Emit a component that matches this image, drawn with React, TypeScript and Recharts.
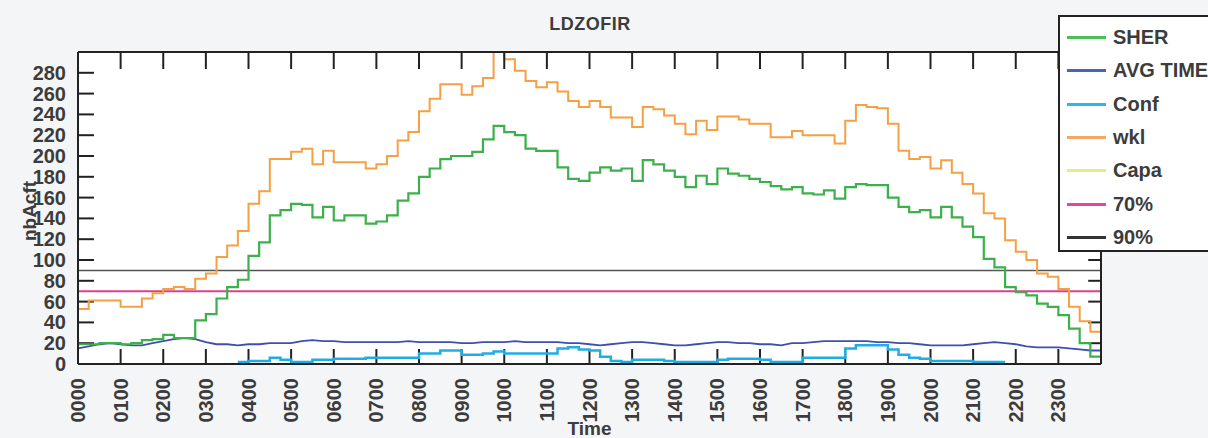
import { ComposedChart, Line, XAxis, YAxis, ReferenceLine, Legend, Label } from "recharts";

const FONT = "'Liberation Sans', Arial, sans-serif";
const INK = "#3c3c3c";
const FRAME = "#222222";

// hour labels on the time axis
const hourLabels = [
  "0000", "0100", "0200", "0300", "0400", "0500", "0600", "0700", "0800", "0900", "1000", "1100",
  "1200", "1300", "1400", "1500", "1600", "1700", "1800", "1900", "2000", "2100", "2200", "2300",
];
const hourTicks = hourLabels.map((_, i) => i);
const yTicks = [0, 20, 40, 60, 80, 100, 120, 140, 160, 180, 200, 220, 240, 260, 280];

// quarter-hour values, 96 per series
const sherValues = [
  19, 19, 20, 20, 19, 20, 23, 24, 28, 25, 25, 42,
  48, 63, 74, 81, 104, 117, 143, 148, 154, 153, 141, 151,
  138, 143, 143, 135, 137, 143, 157, 164, 180, 188, 197, 200,
  200, 204, 216, 229, 223, 220, 207, 205, 205, 189, 178, 176,
  184, 189, 186, 188, 176, 196, 192, 186, 180, 170, 181, 173,
  188, 183, 181, 178, 175, 171, 168, 170, 164, 163, 167, 159,
  170, 173, 172, 172, 160, 151, 146, 148, 141, 151, 141, 132,
  122, 101, 93, 74, 69, 66, 58, 55, 47, 34, 20, 7,
];

const avgTimeValues = [
  15, 17, 19, 20, 19, 18, 18, 20, 22, 24, 25, 24,
  21, 19, 19, 18, 19, 19, 20, 20, 20, 22, 23, 22,
  22, 21, 21, 21, 21, 21, 21, 22, 21, 21, 21, 21,
  20, 20, 21, 21, 21, 22, 21, 21, 21, 21, 20, 20,
  19, 18, 19, 20, 21, 21, 20, 19, 18, 18, 19, 20,
  21, 21, 20, 20, 19, 19, 18, 20, 20, 21, 22, 22,
  22, 22, 22, 21, 21, 20, 20, 19, 18, 18, 18, 18,
  19, 20, 21, 20, 19, 17, 16, 16, 16, 15, 14, 13,
];

const confValues: (number | null)[] = [
  null, null, null, null, null, null, null, null, null, null, null, null,
  null, null, null, 2, 3, 3, 6, 4, 2, 2, 4, 4,
  5, 5, 5, 6, 6, 6, 6, 6, 10, 10, 13, 13,
  9, 9, 10, 12, 10, 10, 10, 10, 10, 15, 16, 14,
  13, 7, 3, 2, 4, 4, 4, 3, 2, 2, 2, 2,
  4, 5, 5, 5, 4, 2, 2, 2, 6, 6, 6, 6,
  15, 18, 18, 18, 14, 9, 6, 5, 3, 3, 3, 3,
  2, 2, 2, 2, null, null, null, null, null, null, null, null,
];

const wklValues = [
  53, 61, 61, 61, 55, 55, 63, 68, 72, 74, 72, 82,
  87, 103, 114, 128, 154, 166, 197, 197, 204, 207, 192, 205,
  194, 194, 194, 188, 192, 200, 215, 223, 243, 255, 269, 269,
  259, 267, 275, 300, 293, 282, 272, 266, 271, 262, 253, 247,
  253, 247, 237, 237, 228, 247, 245, 239, 231, 221, 234, 225,
  238, 238, 235, 231, 231, 218, 218, 224, 220, 220, 220, 212,
  234, 249, 247, 246, 231, 205, 197, 199, 188, 196, 184, 173,
  164, 145, 140, 119, 108, 100, 87, 84, 72, 55, 41, 31,
];

// no capacity values are drawn in the picture
const capaValues: (number | null)[] = wklValues.map(() => null);

const level70 = 70;
const level90 = 90;

const legendItems = [
  { name: "SHER", color: "#4cbf58" },
  { name: "AVG TIME", color: "#4b62bb" },
  { name: "Conf", color: "#2bb8ea" },
  { name: "wkl", color: "#f7a860" },
  { name: "Capa", color: "#e4f07c" },
  { name: "70%", color: "#e4479c" },
  { name: "90%", color: "#333333" },
];

const rows = wklValues.map((_, i) => ({
  t: i / 4,
  sher: sherValues[i],
  avg: avgTimeValues[i],
  conf: confValues[i],
  wkl: wklValues[i],
  capa: capaValues[i],
}));
// close the last step at 24:00
rows.push({ ...rows[rows.length - 1], t: 24 });

// inner tick marks, lengths in axis units
const X_TICK_LEN = 14.4;
const Y_TICK_LEN_L = 0.375;
const Y_TICK_LEN_R = 0.3;

function BottomTick(props: any) {
  const { x, y, payload } = props;
  const ly = y + 14;
  return (
    <text
      x={x}
      y={ly}
      transform={`rotate(-90 ${x} ${ly})`}
      textAnchor="end"
      dominantBaseline="central"
      fontFamily={FONT}
      fontWeight="bold"
      fontSize={20}
      fill={INK}
    >
      {hourLabels[payload.value]}
    </text>
  );
}

function TopTick(props: any) {
  const { x, y } = props;
  return <line x1={x} x2={x} y1={y} y2={y + 17} stroke={FRAME} strokeWidth={2} />;
}

function LeftTick(props: any) {
  const { x, y, payload } = props;
  return (
    <text x={x - 12} y={y} textAnchor="end" dominantBaseline="central" fontFamily={FONT} fontWeight="bold" fontSize={20} fill={INK}>
      {payload.value}
    </text>
  );
}

function YTitle(props: any) {
  const vb = props.viewBox || {};
  const cx = (vb.x || 0) + 29;
  const cy = (vb.y || 0) + (vb.height || 0) / 2 + 3;
  return (
    <text
      x={cx}
      y={cy}
      transform={`rotate(-90 ${cx} ${cy})`}
      textAnchor="middle"
      dominantBaseline="central"
      fontFamily={FONT}
      fontWeight="bold"
      fontSize={19}
      fill={INK}
    >
      nbAcft
    </text>
  );
}

function LegendBox() {
  return (
    <div
      style={{
        position: "relative",
        width: 170,
        height: 237,
        boxSizing: "border-box",
        border: `2px solid ${FRAME}`,
        background: "#fff",
      }}
    >
      {legendItems.map((item, i) => (
        <div
          key={item.name}
          style={{
            position: "absolute",
            left: 7,
            top: 4 + i * 33.3,
            height: 33,
            display: "flex",
            alignItems: "center",
            whiteSpace: "nowrap",
          }}
        >
          <span style={{ display: "inline-block", width: 39, height: 3, background: item.color, marginRight: 7 }} />
          <span style={{ fontFamily: FONT, fontWeight: "bold", fontSize: 20, color: INK }}>{item.name}</span>
        </div>
      ))}
    </div>
  );
}

export default function App() {
  return (
    <div style={{ position: "absolute", left: 0, top: 0, width: 1208, height: 438, background: "#f4f5f6", overflow: "hidden" }}>
      {/* white plot panel behind the chart svg */}
      <div style={{ position: "absolute", left: 78, top: 52, width: 1023, height: 312, background: "#ffffff" }} />
      <div
        style={{
          position: "absolute",
          left: 0,
          width: 1180,
          top: 14,
          textAlign: "center",
          fontFamily: FONT,
          fontWeight: "bold",
          fontSize: 18,
          lineHeight: "20px",
          letterSpacing: 0.5,
          color: INK,
        }}
      >
        LDZOFIR
      </div>
      <div style={{ position: "absolute", left: 0, top: 0 }}>
        <ComposedChart width={1208} height={438} data={rows} margin={{ top: 51, right: 106, bottom: 0, left: 0 }}>
          <XAxis
            dataKey="t"
            type="number"
            domain={[0, 24]}
            ticks={hourTicks}
            interval={0}
            height={74}
            tickSize={0}
            tickMargin={0}
            tickLine={false}
            tick={<BottomTick />}
            axisLine={{ stroke: FRAME, strokeWidth: 2 }}
          >
            <Label value="Time" position="insideBottom" offset={3} style={{ fontFamily: FONT, fontWeight: "bold", fontSize: 19, fill: INK }} />
          </XAxis>
          <XAxis
            xAxisId="top"
            orientation="top"
            dataKey="t"
            type="number"
            domain={[0, 24]}
            ticks={hourTicks.slice(1)}
            interval={0}
            height={1}
            tickSize={0}
            tickMargin={0}
            tickLine={false}
            tick={<TopTick />}
            axisLine={{ stroke: FRAME, strokeWidth: 2 }}
          />
          <YAxis
            type="number"
            domain={[0, 300]}
            ticks={yTicks}
            interval={0}
            width={78}
            tickSize={0}
            tickMargin={0}
            tickLine={false}
            tick={<LeftTick />}
            axisLine={{ stroke: FRAME, strokeWidth: 2 }}
          >
            <Label content={<YTitle />} />
          </YAxis>
          <YAxis
            yAxisId="right"
            orientation="right"
            type="number"
            domain={[0, 300]}
            ticks={yTicks}
            width={1}
            tick={false}
            tickLine={false}
            axisLine={{ stroke: FRAME, strokeWidth: 2 }}
          />
          <ReferenceLine y={level90} stroke="#555555" strokeWidth={1.5} />
          <ReferenceLine y={level70} stroke="#dd3f8e" strokeWidth={2} />
          {hourTicks.slice(1).map((h) => (
            <ReferenceLine key={`bx${h}`} segment={[{ x: h, y: 0 }, { x: h, y: X_TICK_LEN }]} stroke={FRAME} strokeWidth={2} />
          ))}
          {yTicks.slice(1).map((v) => (
            <ReferenceLine key={`ly${v}`} segment={[{ x: 0, y: v }, { x: Y_TICK_LEN_L, y: v }]} stroke={FRAME} strokeWidth={2} />
          ))}
          {yTicks.slice(1).map((v) => (
            <ReferenceLine key={`ry${v}`} segment={[{ x: 24 - Y_TICK_LEN_R, y: v }, { x: 24, y: v }]} stroke={FRAME} strokeWidth={2} />
          ))}
          <Line name="Capa" dataKey="capa" type="stepAfter" stroke="#e4f07c" strokeWidth={2} dot={false} isAnimationActive={false} />
          <Line name="AVG TIME" dataKey="avg" type="linear" stroke="#3e4fb0" strokeWidth={1.8} dot={false} isAnimationActive={false} />
          <Line name="Conf" dataKey="conf" type="stepAfter" stroke="#20ade3" strokeWidth={2.5} dot={false} isAnimationActive={false} />
          <Line name="wkl" dataKey="wkl" type="stepAfter" stroke="#f5a043" strokeWidth={2} dot={false} isAnimationActive={false} />
          <Line name="SHER" dataKey="sher" type="stepAfter" stroke="#3cb04a" strokeWidth={2.2} dot={false} isAnimationActive={false} />
          <Legend
            layout="vertical"
            align="center"
            verticalAlign="middle"
            content={() => <LegendBox />}
            wrapperStyle={{ left: 1058, top: 15, width: 170, height: 237, bottom: "auto", right: "auto" }}
          />
        </ComposedChart>
      </div>
    </div>
  );
}
